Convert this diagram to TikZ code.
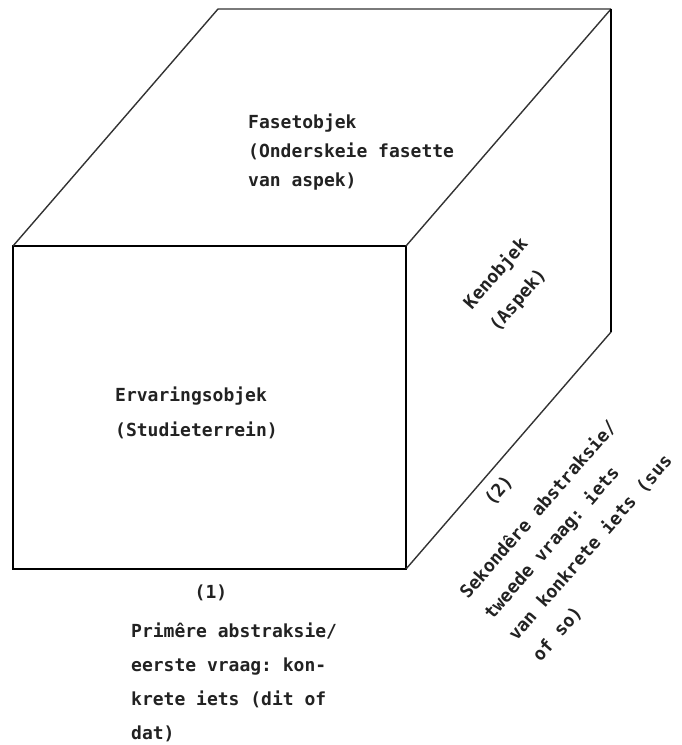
\documentclass[tikz,border=0pt]{standalone}
\usepackage{fontspec}
\setmonofont{DejaVu Sans Mono}
\usetikzlibrary{positioning}
\definecolor{ink}{HTML}{222222}
\definecolor{edgegray}{HTML}{333333}

\begin{document}
\begin{tikzpicture}[
    x=1pt, y=-1pt,
    every node/.style={font=\ttfamily\bfseries\fontsize{18}{29}\selectfont, text=ink, inner sep=0pt},
    face/.style={line width=2pt, draw=black},
    depth/.style={line width=1.4pt, draw=edgegray},
    txt/.style={align=left},
    slanted/.style={align=left, rotate=49},
]
\useasboundingbox (0,0) rectangle (681,745);

% === Cube corners ===
\coordinate (ftl) at (13,246);
\coordinate (ftr) at (406,246);
\coordinate (fbr) at (406,569);
\coordinate (btl) at (218,9);
\coordinate (btr) at (611,9);
\coordinate (bbr) at (611,332);

% === Front face ===
\draw[face] (ftl) rectangle (fbr);

% === Receding edges ===
\draw[depth] (ftl) -- (btl) -- (btr);
\draw[depth] (ftr) -- (btr);
\draw[depth] (fbr) -- (bbr);
\draw[face] (btr) -- (bbr);

% === Top face ===
\node[txt, anchor=west] (faset) at (248,152) {
    Fasetobjek\\
    (Onderskeie fasette\\
    van aspek)
};

% === Side face ===
\node[slanted, font=\ttfamily\bfseries\fontsize{18}{34}\selectfont] (ken) at (509,285) {
    Kenobjek\\
    (Aspek)
};

% === Front face ===
\node[txt, anchor=west, font=\ttfamily\bfseries\fontsize{18}{35}\selectfont] (ervaring) at (115,413) {
    Ervaringsobjek\\
    (Studieterrein)
};

% === Primary abstraction ===
\node (one) at (211,593) {(1)};
\node[txt, anchor=west, font=\ttfamily\bfseries\fontsize{18}{34}\selectfont] (primer) at (131,682) {
    Primêre abstraksie/\\
    eerste vraag: kon-\\
    krete iets (dit of\\
    dat)
};

% === Secondary abstraction ===
\node[rotate=49] (two) at (499,491) {(2)};
\node[slanted, font=\ttfamily\bfseries\fontsize{18}{32}\selectfont] (sekonder) at (578,537) {
    Sekondêre abstraksie/\\
    tweede vraag: iets\\
    van konkrete iets (sus\\
    of so)
};

\end{tikzpicture}
\end{document}
